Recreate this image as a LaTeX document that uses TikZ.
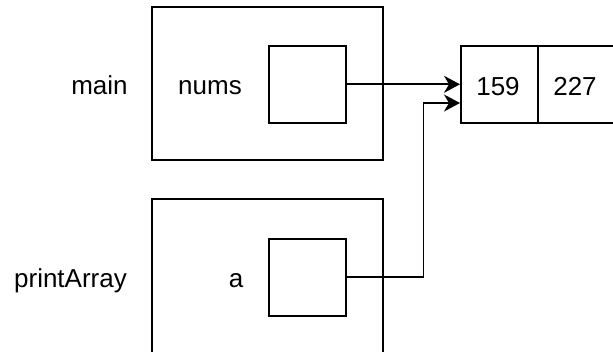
\documentclass[tikz,border=0pt]{standalone}
\usepackage{fontspec}
\setmainfont{Liberation Sans}
\usetikzlibrary{arrows.meta}
\begin{document}
\begin{tikzpicture}[x=1pt,y=-1pt,
  frame/.style={draw,line width=1.6pt},
  cell/.style={draw,line width=1.6pt,minimum width=77pt,minimum height=77pt,inner sep=0pt,anchor=north west},
  lbl/.style={font=\fontsize{26}{30}\selectfont,inner sep=0pt,anchor=base},
  conn/.style={line width=1.6pt,-{Stealth[length=16pt,width=17pt,inset=5pt]}}]
\useasboundingbox (0,0) rectangle (613,352);
\clip (0,0) rectangle (613,352);
\draw[frame] (152,7) rectangle (383,160);
\draw[frame] (152,199) rectangle (383,360);
\node[cell] (nbox) at (268,45) {};
\node[cell] (abox) at (268,238) {};
\node[cell] (c1) at (460,45) {};
\node[cell] (c2) at (537,45) {};
\node[lbl] (v1) at (498,96) {159};
\node[lbl] (v2) at (575,96) {227};
\node[lbl] (mainlbl) at (99.5,95) {main};
\node[lbl] (plbl) at (70.5,288) {printArray};
\node[lbl] (numslbl) at (210,95) {nums};
\node[lbl] (albl) at (236,288) {a};
\coordinate (t2) at (460,103);
\draw[conn] (nbox.east) -- (c1.west);
\draw[conn] (abox.east) -- ++(77,0) |- (t2);
\end{tikzpicture}
\end{document}
